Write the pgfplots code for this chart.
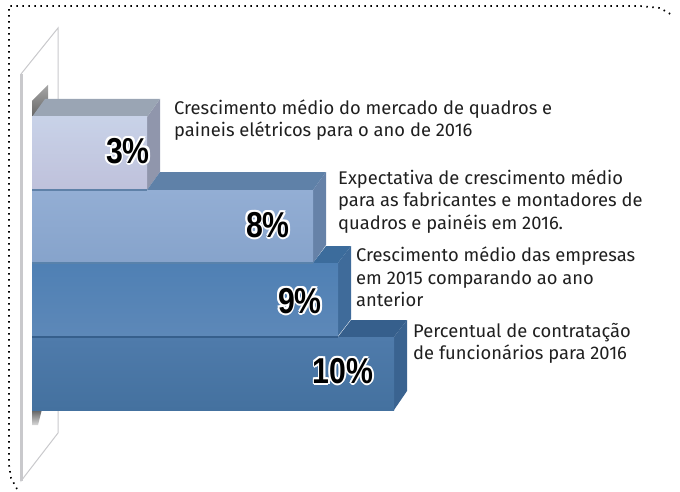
\documentclass[border=0pt]{standalone}
\usepackage{pgfplots}
\usepackage{fontspec}
\setmainfont{Fira Sans}
\newfontfamily\numfont{Liberation Sans}
\pgfplotsset{compat=1.18}
\definecolor{wallc}{HTML}{C9C9CC}
\definecolor{aTop}{HTML}{9AA5B4}\definecolor{aSide}{HTML}{9096AC}
\definecolor{aHi}{HTML}{C8D2E8}\definecolor{aLo}{HTML}{BFC1DB}
\definecolor{bTop}{HTML}{5F81A8}\definecolor{bSide}{HTML}{6682A8}
\definecolor{bHi}{HTML}{93AED4}\definecolor{bLo}{HTML}{86A3CB}
\definecolor{cTop}{HTML}{3C6C9C}\definecolor{cSide}{HTML}{3F6B9A}
\definecolor{cHi}{HTML}{4F80B4}\definecolor{cLo}{HTML}{5D88B8}
\definecolor{dTop}{HTML}{365F8C}\definecolor{dSide}{HTML}{3A6390}
\definecolor{dHi}{HTML}{4F7BAB}\definecolor{dLo}{HTML}{44719F}
\tikzset{pctfont/.style={font=\numfont\bfseries\fontsize{36}{36}\selectfont,xscale=.84}}
% bold percentage with a white halo
\newcommand{\pct}[3]{%
  \node[white,pctfont,xshift=-2pt] at (axis cs:#1,#2) {#3};
  \node[white,pctfont,xshift=2pt] at (axis cs:#1,#2) {#3};
  \node[white,pctfont,yshift=-2pt] at (axis cs:#1,#2) {#3};
  \node[white,pctfont,yshift=2pt] at (axis cs:#1,#2) {#3};
  \node[white,pctfont,xshift=-1.5pt,yshift=-1.5pt] at (axis cs:#1,#2) {#3};
  \node[white,pctfont,xshift=1.5pt,yshift=1.5pt] at (axis cs:#1,#2) {#3};
  \node[white,pctfont,xshift=-1.5pt,yshift=1.5pt] at (axis cs:#1,#2) {#3};
  \node[white,pctfont,xshift=1.5pt,yshift=-1.5pt] at (axis cs:#1,#2) {#3};
  \node[black,pctfont] at (axis cs:#1,#2) {#3};
}
\newcommand{\lbl}[3]{\node[anchor=base west,inner sep=0pt,text=black!88,font=\fontsize{18.35}{20}\selectfont] at (axis cs:#1,#2) {#3};}
\begin{document}
\begin{tikzpicture}
\begin{axis}[
  width=680pt, height=492pt, scale only axis,
  xmin=0, xmax=680, ymin=0, ymax=492, y dir=reverse,
  hide axis, clip=false,
]
% keeps the page as large as the axis
\addplot[draw=none] coordinates {(0,0)(680,492)};
% dotted frame
\addplot[black, line width=1.7pt, dash pattern=on 1.5pt off 4.5pt] coordinates {
  (17,489)(11,478)(9,465)(9,6)(640,6)(660,8)(672,15)};
% wall
\addplot[draw=wallc, line width=1pt, fill=white] coordinates {(21,74)(58,28)(58,433)(21,481)} --cycle;
\addplot[draw=wallc, line width=3pt] coordinates {(21,74)(21,481)};
% back wedge and shadow of the stack
\addplot[draw=none, top color=black!35, bottom color=black!60] coordinates {(32,117)(32,101)(48,85)(48,100)} --cycle;
\addplot[draw=none, top color=black!65, bottom color=black!15] coordinates {(32,409)(32,425)(38,425)(42,409)} --cycle;

% 3%
\addplot[draw=none, fill=aSide] coordinates {(147,117)(160,99)(160,172)(147,190)} --cycle;
\addplot[draw=none, fill=aTop] coordinates {(32,117)(45,99)(160,99)(147,117)} --cycle;
\addplot[draw=none, top color=aHi, bottom color=aLo] coordinates {(32,117)(147,117)(147,190)(32,190)} --cycle;
% 8%
\addplot[draw=none, fill=bSide] coordinates {(313,190)(326,172)(326,245)(313,263)} --cycle;
\addplot[draw=none, fill=bTop] coordinates {(147,190)(160,172)(326,172)(313,190)} --cycle;
\addplot[draw=none, top color=bHi, bottom color=bLo] coordinates {(32,190)(313,190)(313,263)(32,263)} --cycle;
% 9%
\addplot[draw=none, fill=cSide] coordinates {(338,263)(351,246)(351,319)(338,336)} --cycle;
\addplot[draw=none, fill=cTop] coordinates {(313,263)(326,246)(351,246)(338,263)} --cycle;
\addplot[draw=none, top color=cHi, bottom color=cLo] coordinates {(32,263)(338,263)(338,336)(32,336)} --cycle;
% 10%
\addplot[draw=none, fill=dSide] coordinates {(394,337)(407,320)(407,391)(394,410)} --cycle;
\addplot[draw=none, fill=dTop] coordinates {(338,337)(351,320)(407,320)(394,337)} --cycle;
\addplot[draw=none, top color=dHi, bottom color=dLo] coordinates {(32,337)(394,337)(394,410)(32,410)} --cycle;
% dark seams between the bars
\addplot[draw=bTop, line width=1.5pt] coordinates {(32,190)(147,190)};
\addplot[draw=cTop!85, line width=1.5pt] coordinates {(32,263)(313,263)};
\addplot[draw=dTop, line width=1.5pt] coordinates {(32,337)(338,337)};

\pct{128}{151}{3\%}
\pct{268}{225}{8\%}
\pct{300}{301}{9\%}
\pct{343}{371}{10\%}

\lbl{174}{115}{Crescimento médio do mercado de quadros e}
\lbl{174}{137}{paineis elétricos para o ano de 2016}
\lbl{338}{184}{Expectativa de crescimento médio}
\lbl{338}{206}{para as fabricantes e montadores de}
\lbl{338}{229}{quadros e painéis em 2016.}
\lbl{356}{261}{Crescimento médio das empresas}
\lbl{356}{284}{em 2015 comparando ao ano}
\lbl{356}{306}{anterior}
\lbl{413}{337}{Percentual de contratação}
\lbl{413}{359}{de funcionários para 2016}
\end{axis}
\end{tikzpicture}
\end{document}
